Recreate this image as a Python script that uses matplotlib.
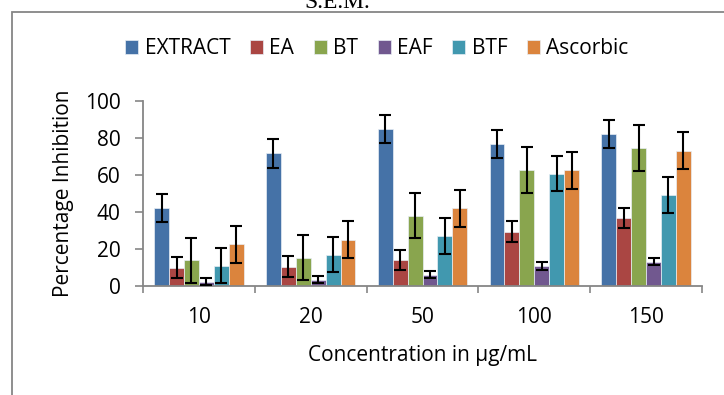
import matplotlib
matplotlib.use("Agg")
import matplotlib.pyplot as plt
from matplotlib.patches import Rectangle
import numpy as np

plt.rcParams['font.family'] = ['Open Sans', 'DejaVu Sans']

concentrations = ['10', '20', '50', '100', '150']
series = ['EXTRACT', 'EA', 'BT', 'EAF', 'BTF', 'Ascorbic']
colors = ['#4572A7', '#AA4643', '#89A54E', '#71588F', '#4198AF', '#DB843D']

# mean percentage inhibition, one list per sample
extract = [42.2, 71.7, 84.7, 76.7, 82.1]
ea = [9.9, 10.4, 14.2, 29.4, 36.6]
bt = [13.8, 15.3, 38.0, 62.6, 74.5]
eaf = [2.4, 3.5, 6.2, 10.6, 13.1]
btf = [10.9, 16.9, 26.8, 60.8, 49.2]
ascorbic = [22.5, 25.0, 42.0, 62.6, 73.1]

# S.E.M. error bars
extract_err = [7.7, 7.7, 7.6, 7.6, 7.6]
ea_err = [5.6, 5.6, 5.5, 5.5, 5.5]
bt_err = [12.4, 12.3, 12.3, 12.3, 12.4]
eaf_err = [1.8, 2.1, 2.0, 2.2, 2.0]
btf_err = [9.5, 9.6, 9.7, 9.6, 9.6]
ascorbic_err = [10.1, 10.0, 10.1, 10.1, 10.1]

values = [extract, ea, bt, eaf, btf, ascorbic]
errors = [extract_err, ea_err, bt_err, eaf_err, btf_err, ascorbic_err]

fs = 15

fig = plt.figure(figsize=(7.24, 3.95), dpi=100)
ax = fig.add_axes([143/724, 1 - 286/395, 559/724, 185/395])

x = np.arange(len(concentrations))
width = 0.8 / len(series)
for k in range(len(series)):
    pos = x - 0.4 + (k + 0.5) * width
    ax.bar(pos, values[k], width, color=colors[k], edgecolor='#e8eef5',
           linewidth=0.5, label=series[k], zorder=2)
    ax.errorbar(pos, values[k], yerr=errors[k], fmt='none', ecolor='black',
                elinewidth=1.5, capsize=4.6, capthick=1.5, zorder=3)

ax.set_xlim(-0.5, len(concentrations) - 0.5)
ax.set_ylim(0, 100)
ax.set_yticks(range(0, 101, 20))
ax.set_xticks(x)
ax.set_xticklabels(concentrations)
ax.set_xticks(np.arange(-0.5, len(concentrations)), minor=True)
ax.tick_params(axis='x', which='major', length=0, pad=15, labelsize=fs)
ax.tick_params(axis='x', which='minor', length=5, color='#868686', width=1.2)
ax.tick_params(axis='y', length=6, color='#868686', width=1.2, pad=10, labelsize=fs)

for side in ['top', 'right']:
    ax.spines[side].set_visible(False)
for side in ['left', 'bottom']:
    ax.spines[side].set_color('#868686')
    ax.spines[side].set_linewidth(1.3)

ax.set_xlabel('Concentration in µg/mL', fontsize=fs, va='center')
ax.xaxis.set_label_coords(0.5, (286 - 355) / 185)
ax.set_ylabel('Percentage Inhibition', fontsize=fs, va='center')
ax.yaxis.set_label_coords((63 - 143) / 559, 0.5)

fig.legend(loc='center', bbox_to_anchor=(377/724, 1 - 49/395), ncol=6,
           frameon=False, fontsize=fs, handlelength=0.62, handleheight=0.62,
           handletextpad=0.3, columnspacing=0.95)

# outer chart frame (runs past the image edges) and clipped caption above it
fig.add_artist(Rectangle((12/724, -0.2), 1.2, 1.2 - 12/395, transform=fig.transFigure,
                         fill=False, edgecolor='#868686', linewidth=1.3))
fig.text(337/724, 1 - 8/395, 'S.E.M.', family='Liberation Serif', fontsize=17,
         ha='center', va='baseline')

fig.savefig('out.png', dpi=100)
